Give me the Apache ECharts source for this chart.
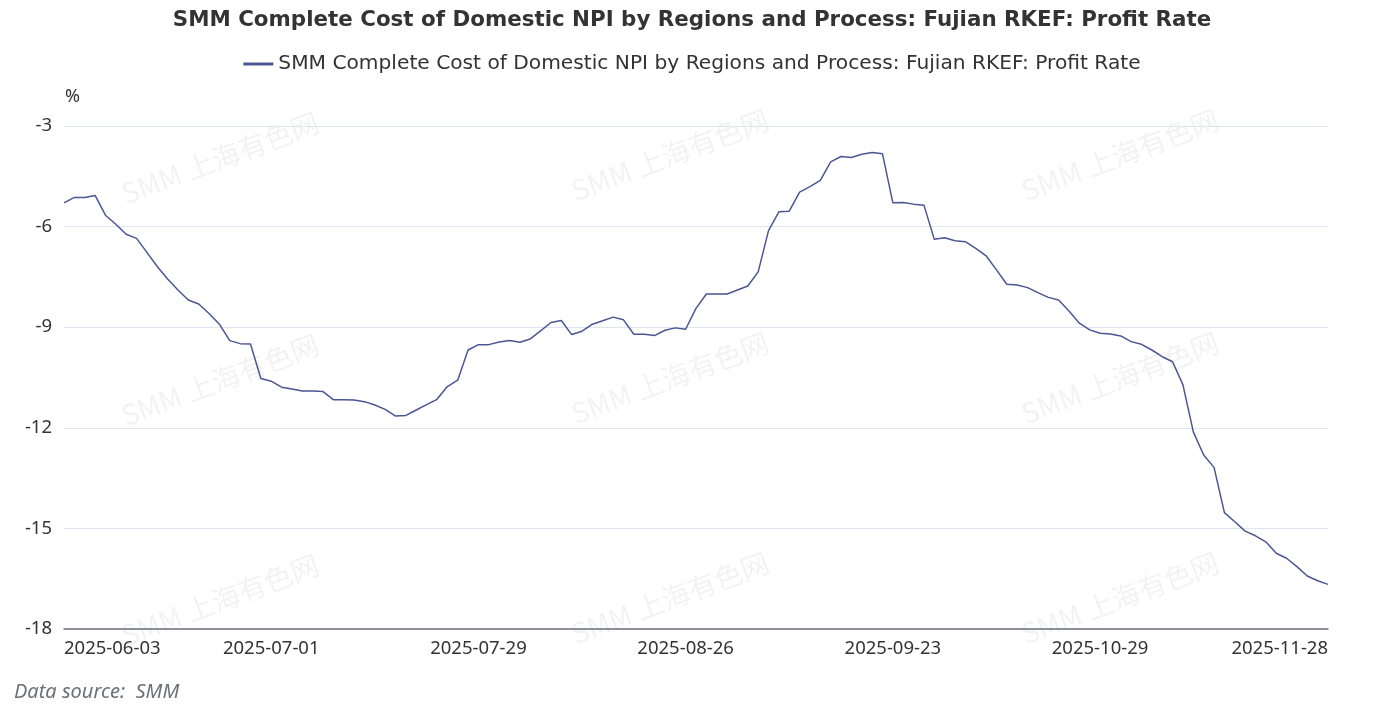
<!DOCTYPE html>
<html>
<head>
<meta charset="utf-8">
<script src="https://cdn.jsdelivr.net/npm/echarts@6/dist/echarts.min.js"></script>
<style>
html,body{margin:0;padding:0;background:#fff;}
#main{width:1384px;height:717px;}
</style>
</head>
<body>
<div id="main"></div>
<script>
const titleText = 'SMM Complete Cost of Domestic NPI by Regions and Process: Fujian RKEF: Profit Rate';
const seriesName = 'SMM Complete Cost of Domestic NPI by Regions and Process: Fujian RKEF: Profit Rate';

const dates = [
'2025-06-03','2025-06-04','2025-06-05','2025-06-06',
'2025-06-09','2025-06-10','2025-06-11','2025-06-12','2025-06-13',
'2025-06-16','2025-06-17','2025-06-18','2025-06-19','2025-06-20',
'2025-06-23','2025-06-24','2025-06-25','2025-06-26','2025-06-27',
'2025-06-30',
'2025-07-01','2025-07-02','2025-07-03','2025-07-04',
'2025-07-07','2025-07-08','2025-07-09','2025-07-10','2025-07-11',
'2025-07-14','2025-07-15','2025-07-16','2025-07-17','2025-07-18',
'2025-07-21','2025-07-22','2025-07-23','2025-07-24','2025-07-25',
'2025-07-28','2025-07-29','2025-07-30','2025-07-31',
'2025-08-01',
'2025-08-04','2025-08-05','2025-08-06','2025-08-07','2025-08-08',
'2025-08-11','2025-08-12','2025-08-13','2025-08-14','2025-08-15',
'2025-08-18','2025-08-19','2025-08-20','2025-08-21','2025-08-22',
'2025-08-25','2025-08-26','2025-08-27','2025-08-28','2025-08-29',
'2025-09-01','2025-09-02','2025-09-03','2025-09-04','2025-09-05',
'2025-09-08','2025-09-09','2025-09-10','2025-09-11','2025-09-12',
'2025-09-15','2025-09-16','2025-09-17','2025-09-18','2025-09-19',
'2025-09-22','2025-09-23','2025-09-24','2025-09-25','2025-09-26',
'2025-09-29','2025-09-30',
'2025-10-09','2025-10-10',
'2025-10-13','2025-10-14','2025-10-15','2025-10-16','2025-10-17',
'2025-10-20','2025-10-21','2025-10-22','2025-10-23','2025-10-24',
'2025-10-27','2025-10-28','2025-10-29','2025-10-30','2025-10-31',
'2025-11-03','2025-11-04','2025-11-05','2025-11-06','2025-11-07',
'2025-11-10','2025-11-11','2025-11-12','2025-11-13','2025-11-14',
'2025-11-17','2025-11-18','2025-11-19','2025-11-20','2025-11-21',
'2025-11-24','2025-11-25','2025-11-26','2025-11-27','2025-11-28'
];

const profitRate = [
-5.29,-5.13,-5.13,-5.07,-5.66,-5.93,-6.23,-6.35,-6.77,-7.19,
-7.56,-7.89,-8.19,-8.31,-8.59,-8.91,-9.40,-9.49,-9.50,-10.53,
-10.61,-10.79,-10.84,-10.90,-10.90,-10.92,-11.16,-11.16,-11.17,-11.22,
-11.32,-11.45,-11.65,-11.63,-11.47,-11.31,-11.15,-10.77,-10.58,-9.68,
-9.52,-9.52,-9.44,-9.40,-9.45,-9.35,-9.11,-8.86,-8.80,-9.22,
-9.12,-8.91,-8.81,-8.70,-8.78,-9.21,-9.21,-9.25,-9.09,-9.02,
-9.06,-8.44,-8.01,-8.01,-8.01,-7.89,-7.77,-7.35,-6.12,-5.56,
-5.54,-4.97,-4.81,-4.62,-4.07,-3.91,-3.94,-3.84,-3.79,-3.83,
-5.29,-5.28,-5.33,-5.36,-6.38,-6.33,-6.42,-6.45,-6.65,-6.87,
-7.29,-7.72,-7.74,-7.82,-7.97,-8.11,-8.19,-8.52,-8.88,-9.08,
-9.18,-9.20,-9.26,-9.43,-9.51,-9.68,-9.88,-10.03,-10.72,-12.12,
-12.81,-13.18,-14.53,-14.80,-15.08,-15.22,-15.40,-15.74,-15.89,-16.14,
-16.42,-16.56,-16.67
];

const yTicks = [-18, -15, -12, -9, -6, -3];
const labelIdx = [0, 20, 40, 60, 80, 100, 122];

const LATIN = '"Noto Sans", "Open Sans", sans-serif';
const WIDE = '"DejaVu Sans", "Noto Sans", sans-serif';
const CJK = '"Noto Sans CJK SC", "Noto Sans", sans-serif';
const lineColor = '#4B5694';

const wmText = 'SMM 上海有色网';
const wmPos = [[220,158],[670,155],[1120,155],[220,380],[670,378],[1120,378],[220,600],[670,598],[1120,598]];
const watermarks = wmPos.map(p => ({
  type: 'text', x: p[0], y: p[1], rotation: 0.36, silent: true, z: 0,
  style: { text: wmText, align: 'center', verticalAlign: 'middle',
    fill: 'rgba(0,0,0,0.05)', font: '28px ' + CJK }
}));

const chart = echarts.init(document.getElementById('main'));
chart.setOption({
  animation: false,
  backgroundColor: '#fff',
  textStyle: { fontFamily: LATIN },
  title: {
    text: titleText, left: 'center', top: 5,
    textStyle: { fontSize: 21.4, fontWeight: 'bold', color: '#333', fontFamily: WIDE }
  },
  legend: {
    top: 49, left: 'center', itemWidth: 30, itemHeight: 3, itemGap: 10,
    textStyle: { fontSize: 20.2, color: '#333', fontFamily: WIDE },
    data: [{ name: seriesName, icon: 'rect', itemStyle: { color: lineColor } }]
  },
  grid: { left: 64, right: 56, top: 126, bottom: 88, containLabel: false },
  xAxis: {
    type: 'category', data: dates, boundaryGap: false,
    axisLine: { lineStyle: { color: '#6E7079', width: 1.5 } },
    axisTick: { show: false },
    axisLabel: {
      color: '#333', fontSize: 18.5, margin: 10, fontFamily: LATIN,
      interval: function (i) { return labelIdx.indexOf(i) >= 0; },
      alignMinLabel: 'left', alignMaxLabel: 'right'
    },
    splitLine: { show: false }
  },
  yAxis: {
    type: 'value', min: yTicks[0], max: yTicks[yTicks.length-1], interval: 3,
    name: '%', nameGap: 20,
    nameTextStyle: { color: '#333', fontSize: 18, align: 'left', fontFamily: LATIN, padding: [0,0,0,1] },
    axisLine: { show: false }, axisTick: { show: false },
    axisLabel: { color: '#333', fontSize: 18.5, margin: 12, fontFamily: LATIN },
    splitLine: { lineStyle: { color: '#E0E6F1' } }
  },
  series: [{
    name: seriesName, type: 'line', data: profitRate,
    symbol: 'none', smooth: false,
    lineStyle: { color: lineColor, width: 1.5 },
    itemStyle: { color: lineColor }, z: 3
  }],
  graphic: watermarks.concat([{
    type: 'text', left: 14, top: 682,
    style: { text: 'Data source:  SMM', fill: '#6E7079',
      font: 'italic 20px ' + LATIN }
  }])
});
</script>
</body>
</html>
